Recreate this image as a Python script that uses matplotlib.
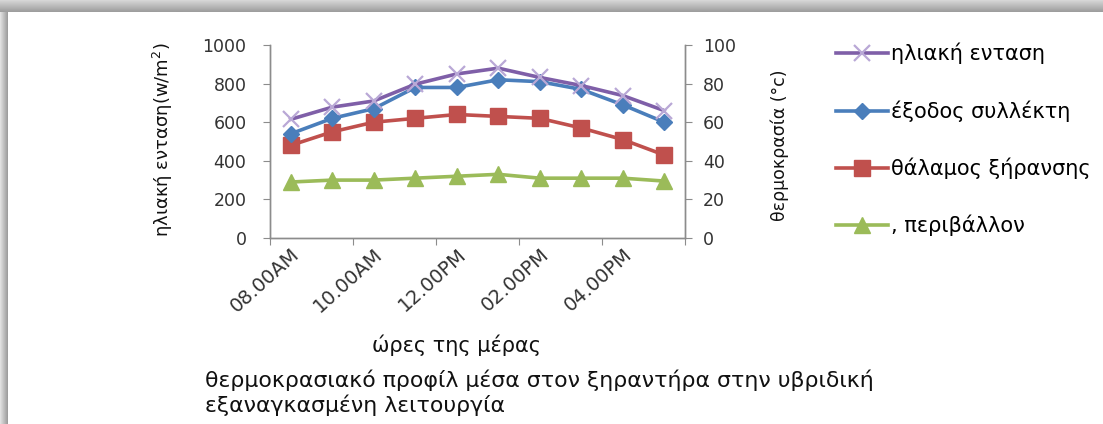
import numpy as np
import matplotlib
matplotlib.use("Agg")
import matplotlib.pyplot as plt

# Hourly readings through the day
hours = ["08.00AM", "09.00AM", "10.00AM", "11.00AM", "12.00PM",
         "01.00PM", "02.00PM", "03.00PM", "04.00PM", "05.00PM"]
solar = [615, 678, 710, 797, 850, 880, 832, 790, 738, 660]          # W/m2
collector_out = [54, 62, 67, 78, 78, 82, 81, 77, 69, 60]           # °C
drying_chamber = [48, 55, 60, 62, 64, 63, 62, 57, 51, 43]          # °C
ambient = [29, 30, 30, 31, 32, 33, 31, 31, 31, 29.5]               # °C

names = ["ηλιακή ενταση", "έξοδος συλλέκτη", "θάλαμος ξήρανσης", ", περιβάλλον"]
colors = ["#7F5FA8", "#4A7EBB", "#C0504D", "#9BBB59"]

plt.rcParams["font.family"] = ["DejaVu Sans"]

W, H = 1103, 424
fig = plt.figure(figsize=(W / 100, H / 100), dpi=100)

# Shadowed frame around the white card
bg = fig.add_axes([0, 0, 1, 1], zorder=-5)
bg.set_xlim(0, W)
bg.set_ylim(H, 0)
bg.axis("off")
top = np.linspace(0.86, 0.62, 13)[:, None] * np.ones((1, 2))
bg.imshow(top, cmap="gray", vmin=0, vmax=1, extent=[0, W, 12.5, 0], aspect="auto",
          interpolation="bilinear")
left = np.linspace(0.88, 0.62, 8)[None, :] * np.ones((2, 1))
bg.imshow(left, cmap="gray", vmin=0, vmax=1, extent=[0, 7.5, H, 12.5], aspect="auto",
          interpolation="bilinear")

x0, x1, y0, y1 = 270, 685, 45, 238
ax = fig.add_axes([x0 / W, 1 - y1 / H, (x1 - x0) / W, (y1 - y0) / H])
ax2 = ax.twinx()

x = np.arange(len(hours))
lw = 2.6
l1, = ax.plot(x, solar, color=colors[0], lw=lw, marker="x", ms=11, mew=1.6,
              mec="#B9A8D6", zorder=5)
l2, = ax2.plot(x, collector_out, color=colors[1], lw=lw, marker="D", ms=8, zorder=4)
l3, = ax2.plot(x, drying_chamber, color=colors[2], lw=lw, marker="s", ms=11, zorder=3)
l4, = ax2.plot(x, ambient, color=colors[3], lw=lw, marker="^", ms=11, zorder=2)
ax.set_zorder(ax2.get_zorder() + 1)
ax.patch.set_visible(False)

axis_gray = "#8C8C8C"
label_col = "#333333"
ax.set_xlim(-0.5, len(hours) - 0.5)
ax.set_ylim(0, 1000)
ax2.set_ylim(0, 100)
ax.set_yticks(np.arange(0, 1001, 200))
ax2.set_yticks(np.arange(0, 101, 20))

ax.set_xticks(np.arange(-0.5, len(hours), 2))
ax.set_xticklabels([])
ax.set_xticks(x[::2], minor=True)
ax.set_xticklabels(hours[::2], minor=True, rotation=42, ha="right",
                   rotation_mode="anchor", fontsize=14, color=label_col)
ax.tick_params(axis="x", which="minor", length=0, pad=5)
ax.tick_params(axis="x", which="major", length=5, color=axis_gray)
ax.tick_params(axis="y", length=5, color=axis_gray, labelsize=12.5,
               labelcolor=label_col, pad=12)
ax2.tick_params(axis="y", length=5, color=axis_gray, labelsize=12.5,
                labelcolor=label_col, pad=8)

for a in (ax, ax2):
    a.spines["top"].set_visible(False)
    for s in ("left", "right", "bottom"):
        a.spines[s].set_color(axis_gray)
        a.spines[s].set_linewidth(1.0)

fig.text(163 / W, 1 - 140 / H, "ηλιακή ενταση(w/m$^2$)", rotation=90,
         ha="center", va="center", fontsize=13, color="#111111")
fig.text(780 / W, 1 - 145 / H, "θερμοκρασία (°c)", rotation=90,
         ha="center", va="center", fontsize=12.5, color="#111111")
fig.text(457 / W, 1 - 345 / H, "ώρες της μέρας", ha="center", va="center",
         fontsize=15, color="#111111")

fig.legend([l1, l2, l3, l4], names, loc="upper left",
           bbox_to_anchor=(836 / W, 1 - 43 / H), frameon=False, fontsize=15,
           handlelength=2.5, handletextpad=0.15, labelspacing=1.72,
           borderaxespad=0, borderpad=0)

fig.text(205 / W, 1 - 380 / H,
         "θερμοκρασιακό προφίλ μέσα στον ξηραντήρα στην υβριδική",
         ha="left", va="center", fontsize=15.8, color="#111111")
fig.text(205 / W, 1 - 405 / H, "εξαναγκασμένη λειτουργία",
         ha="left", va="center", fontsize=15.8, color="#111111")

fig.savefig("out.png", dpi=100)
